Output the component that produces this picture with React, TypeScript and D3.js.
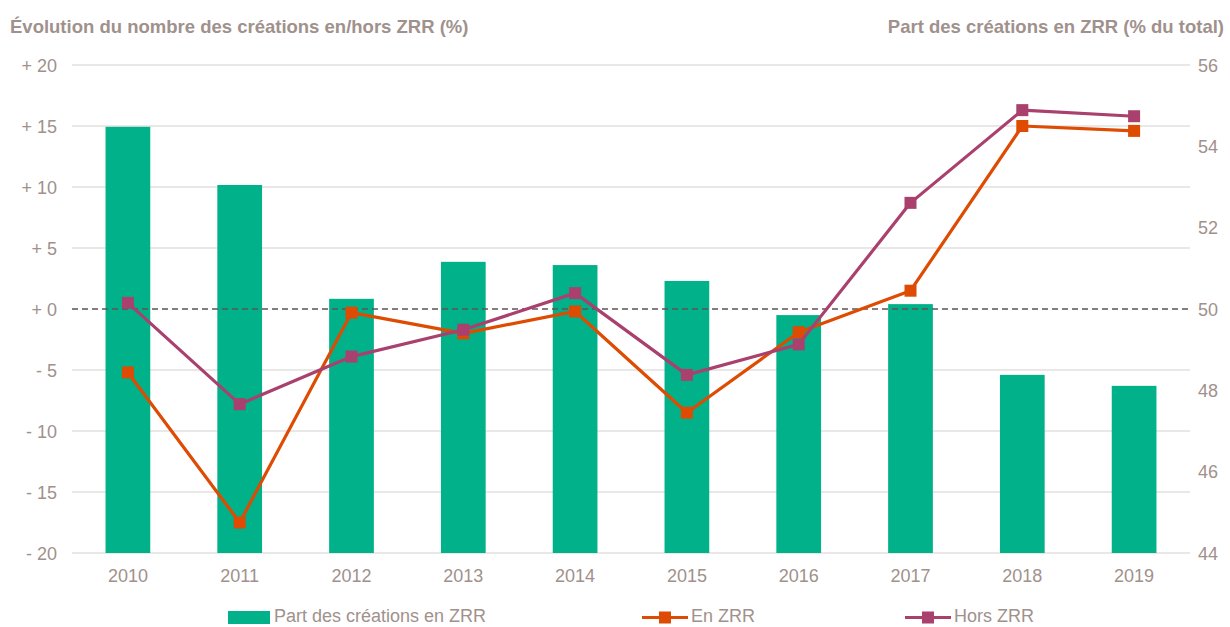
import React from "react";
import * as d3 from "d3";

const years = ["2010", "2011", "2012", "2013", "2014", "2015", "2016", "2017", "2018", "2019"];
const partZRR = [54.48, 53.05, 50.25, 51.16, 51.08, 50.69, 49.85, 50.12, 48.38, 48.11];
const enZRR = [-5.2, -17.5, -0.3, -2.0, -0.2, -8.5, -1.9, 1.5, 15.0, 14.6];
const horsZRR = [0.5, -7.8, -3.9, -1.7, 1.3, -5.4, -2.9, 8.7, 16.3, 15.8];
const leftTicks = [-20, -15, -10, -5, 0, 5, 10, 15, 20];
const rightTicks = [44, 46, 48, 50, 52, 54, 56];

const W = 1230, H = 627;
const left = 72, right = 1190, top = 65, bottom = 553;
const GREEN = "#00B189";
const ORANGE = "#DE4B02";
const PURPLE = "#A9406E";
const TXT = "#A0918C";
const FONT = "'Liberation Sans', Arial, sans-serif";

export default function App() {
  const x = d3.scaleBand().domain(years).range([left, right]).paddingInner(0.6).paddingOuter(0.3);
  const yL = d3.scaleLinear().domain([-20, 20]).range([bottom, top]);
  const yR = d3.scaleLinear().domain([44, 56]).range([bottom, top]);
  const cx = (y: string) => (x(y) as number) + x.bandwidth() / 2;
  const line = d3.line<number>().x((_, i) => cx(years[i])).y((d) => yL(d));
  const fmt = (v: number) => (v > 0 ? "+ " + v : v < 0 ? "- " + Math.abs(v) : "+ 0");
  const ms = 12;

  const series = [
    { data: enZRR, color: ORANGE },
    { data: horsZRR, color: PURPLE },
  ];

  return (
    <svg width={W} height={H} style={{ position: "absolute", left: 0, top: 0, fontFamily: FONT }}>
      <rect width={W} height={H} fill="#fff" />
      <text x={10} y={33} fontSize={18.5} fontWeight="bold" fill={TXT}>Évolution du nombre des créations en/hors ZRR (%)</text>
      <text x={1224} y={33} fontSize={18.5} fontWeight="bold" fill={TXT} textAnchor="end">Part des créations en ZRR (% du total)</text>
      {leftTicks.map((t) => (
        <g key={"l" + t}>
          {t !== 0 && <line x1={left} x2={right} y1={yL(t)} y2={yL(t)} stroke="#E3DFDF" strokeWidth={1.3} />}
          <text x={57} y={yL(t) + 6.5} fontSize={18} fill={TXT} textAnchor="end">{fmt(t)}</text>
        </g>
      ))}
      {rightTicks.map((t) => (
        <text key={"r" + t} x={1198} y={yR(t) + 6.5} fontSize={18} fill={TXT}>{t}</text>
      ))}
      {years.map((yr, i) => (
        <g key={yr}>
          <rect x={x(yr)} y={yR(partZRR[i])} width={x.bandwidth()} height={yR(44) - yR(partZRR[i])} fill={GREEN} />
          <text x={cx(yr)} y={582} fontSize={18} fill={TXT} textAnchor="middle">{yr}</text>
        </g>
      ))}
      <line x1={left} x2={right} y1={yL(0)} y2={yL(0)} stroke="#5E5454" strokeWidth={1.5} strokeDasharray="6,4" />
      {series.map((s, k) => (
        <g key={k}>
          <path d={line(s.data) as string} fill="none" stroke={s.color} strokeWidth={3.2} strokeLinejoin="round" />
          {s.data.map((v, i) => (
            <rect key={i} x={cx(years[i]) - ms / 2} y={yL(v) - ms / 2} width={ms} height={ms} fill={s.color} />
          ))}
        </g>
      ))}
      <g fontSize={18} fill={TXT}>
        <rect x={228} y={611} width={42} height={13} fill={GREEN} />
        <text x={274} y={622}>Part des créations en ZRR</text>
        <line x1={642} x2={688} y1={617.5} y2={617.5} stroke={ORANGE} strokeWidth={3} />
        <rect x={659} y={611.5} width={12} height={12} fill={ORANGE} />
        <text x={691} y={622}>En ZRR</text>
        <line x1={905} x2={951} y1={617.5} y2={617.5} stroke={PURPLE} strokeWidth={3} />
        <rect x={922} y={611.5} width={12} height={12} fill={PURPLE} />
        <text x={954} y={622}>Hors ZRR</text>
      </g>
    </svg>
  );
}
